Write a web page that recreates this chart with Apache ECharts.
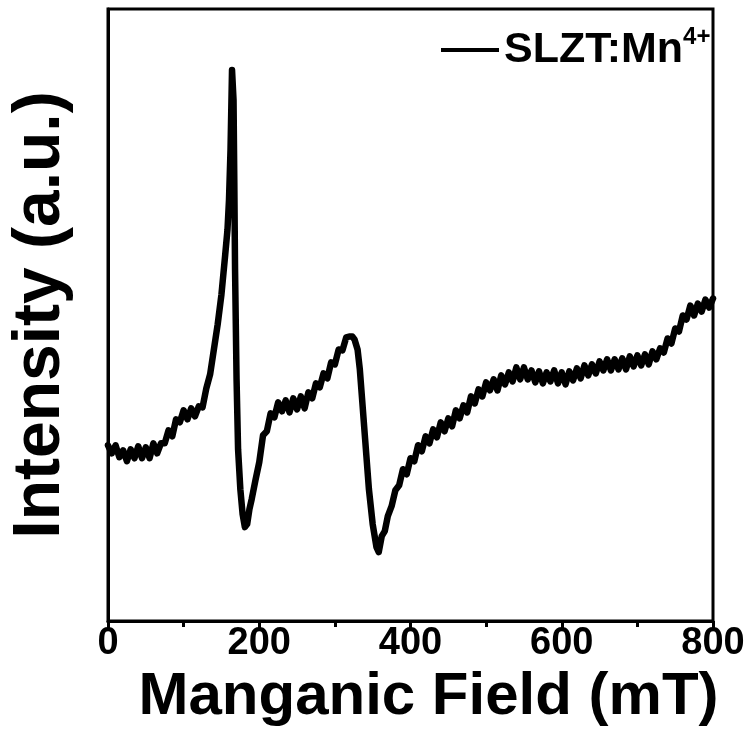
<!DOCTYPE html>
<html>
<head>
<meta charset="utf-8">
<script src="https://cdn.jsdelivr.net/npm/echarts@6/dist/echarts.min.js"></script>
<style>
  html, body { margin: 0; padding: 0; background: #fff; }
  #chart { width: 753px; height: 747px; }
</style>
</head>
<body>
<div id="chart"></div>
<script>
// field positions (mT) and EPR intensity (a.u.)
var fields = [
  0, 5, 10, 15, 20, 25, 30, 35, 40, 45, 50, 55, 60, 65, 70, 75, 80, 85, 90, 95,
  100, 105, 110, 115, 120, 125, 130, 135, 140, 145, 150, 155, 158, 160, 162, 164, 165, 166, 167, 168,
  170, 172, 175, 178, 181, 184, 187, 190, 195, 200, 205, 210, 215, 220, 225, 230, 235, 240, 245, 250,
  255, 260, 265, 270, 275, 280, 285, 290, 295, 300, 305, 310, 315, 320, 323, 326, 330, 333, 336, 340,
  345, 350, 355, 358, 362, 366, 370, 375, 380, 385, 390, 395, 400, 405, 410, 415, 420, 425, 430, 435,
  440, 445, 450, 455, 460, 465, 470, 475, 480, 485, 490, 495, 500, 505, 510, 515, 520, 525, 530, 535,
  540, 545, 550, 555, 560, 565, 570, 575, 580, 585, 590, 595, 600, 605, 610, 615, 620, 625, 630, 635,
  640, 645, 650, 655, 660, 665, 670, 675, 680, 685, 690, 695, 700, 705, 710, 715, 720, 725, 730, 735,
  740, 745, 750, 755, 760, 765, 770, 775, 780, 785, 790, 795, 800
];
var intensity = [
  176, 168, 176, 164, 171, 160, 172, 163, 175, 163, 174, 163, 178, 168, 178, 178, 191, 185, 202, 199,
  211, 202, 213, 205, 215, 214, 233, 247, 272, 297, 327, 367, 392, 422, 472, 552, 554, 522, 442, 352,
  242, 172, 132, 107, 94, 97, 112, 122, 141, 159, 186, 190, 208, 204, 219, 210, 221, 209, 223, 212,
  225, 213, 229, 223, 238, 234, 248, 243, 259, 257, 272, 271, 284, 285, 285, 282, 272, 252, 222, 182,
  132, 97, 74, 69, 85, 90, 105, 115, 131, 136, 152, 147, 163, 160, 176, 170, 185, 178, 192, 184,
  199, 190, 203, 195, 211, 203, 216, 209, 225, 218, 232, 225, 239, 231, 242, 231, 246, 237, 249, 240,
  254, 242, 254, 242, 251, 239, 250, 238, 249, 240, 251, 238, 249, 237, 250, 241, 253, 243, 256, 246,
  257, 248, 260, 251, 262, 251, 262, 252, 263, 252, 265, 255, 266, 256, 267, 257, 270, 262, 273, 269,
  283, 278, 293, 290, 306, 302, 316, 306, 318, 310, 322, 314, 323
];
var xTicks = [0, 200, 400, 600, 800];
var seriesName = 'SLZT:Mn4+';

var font = "'Liberation Sans', Arial, sans-serif";
var points = fields.map(function (f, i) { return [f, intensity[i]]; });

var myChart = echarts.init(document.getElementById('chart'));

myChart.setOption({
  backgroundColor: '#fff',
  animation: false,
  grid: {
    left: 98, right: 40, top: 9, bottom: 126,
    show: true, borderColor: '#000', borderWidth: 3, backgroundColor: 'transparent'
  },
  legend: {
    left: 436, top: 20,
    icon: 'rect',
    itemWidth: 58, itemHeight: 4,
    data: [seriesName],
    formatter: function () { return '{a|SLZT:Mn}{b|4+}'; },
    textStyle: {
      rich: {
        a: { fontFamily: font, fontWeight: 'bold', fontSize: 43, color: '#000', lineHeight: 50 },
        b: { fontFamily: font, fontWeight: 'bold', fontSize: 24, color: '#000', verticalAlign: 'top', padding: [0, 0, 8, 0] }
      }
    }
  },
  xAxis: {
    type: 'value',
    min: xTicks[0], max: xTicks[xTicks.length - 1], interval: 200,
    name: 'Manganic Field (mT)',
    nameLocation: 'middle',
    nameGap: 42,
    nameTextStyle: { fontFamily: font, fontWeight: 'bold', fontSize: 60, color: '#000', padding: [0, 0, 0, 36] },
    axisLine: { lineStyle: { color: '#000', width: 3 } },
    axisTick: { show: true, inside: false, length: 10, lineStyle: { color: '#000', width: 3 } },
    minorTick: { show: true, splitNumber: 2, length: 6, lineStyle: { color: '#000', width: 3 } },
    splitLine: { show: false },
    axisLabel: { fontFamily: font, fontWeight: 'bold', fontSize: 38, color: '#000', margin: 4 }
  },
  yAxis: {
    type: 'value',
    min: 0, max: 613,
    name: 'Intensity (a.u.)',
    nameLocation: 'middle',
    nameGap: 34,
    nameTextStyle: { fontFamily: font, fontWeight: 'bold', fontSize: 66, color: '#000' },
    axisLine: { show: true, lineStyle: { color: '#000', width: 3 } },
    axisTick: { show: false },
    axisLabel: { show: false },
    splitLine: { show: false }
  },
  series: [{
    name: seriesName,
    type: 'line',
    data: points,
    symbol: 'none',
    lineStyle: { color: '#000', width: 6.5, cap: 'round', join: 'round' },
    itemStyle: { color: '#000' }
  }]
});
</script>
</body>
</html>
